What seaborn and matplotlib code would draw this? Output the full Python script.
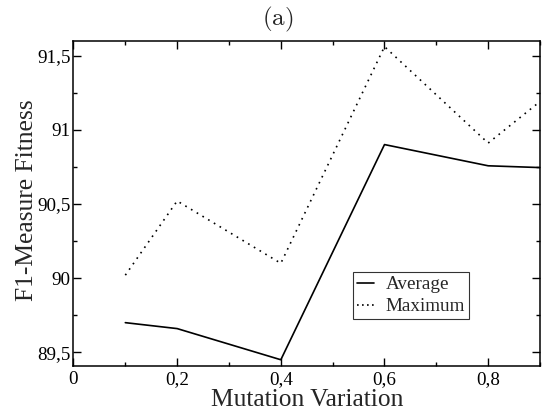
import matplotlib
matplotlib.use("Agg")
import matplotlib.pyplot as plt
import seaborn as sns
import pandas as pd
from matplotlib.ticker import FuncFormatter, MultipleLocator
from matplotlib.lines import Line2D

mutation = [0.1, 0.2, 0.4, 0.6, 0.8, 0.9]
average = [89.70, 89.66, 89.45, 90.90, 90.757, 90.745]
maximum = [90.02, 90.52, 90.10, 91.56, 90.91, 91.19]
series_names = ["Average", "Maximum"]

df = pd.DataFrame({
    "x": mutation * 2,
    "y": average + maximum,
    "series": [series_names[0]] * len(mutation) + [series_names[1]] * len(mutation),
})

sns.set_theme(style="ticks")
plt.rcParams["font.family"] = ["Liberation Serif", "DejaVu Serif"]
plt.rcParams["mathtext.fontset"] = "cm"

fig = plt.figure(figsize=(5.48, 4.16), dpi=100)
ax = fig.add_axes([0.1341, 0.1195, 0.8513, 0.7827])

sns.lineplot(data=df, x="x", y="y", style="series", ax=ax,
             dashes={"Average": "", "Maximum": (1, 3)},
             color="black", linewidth=1.2, legend=False)

ax.set_xlim(0, 0.9)
ax.set_ylim(89.406, 91.6)
ax.xaxis.set_major_locator(MultipleLocator(0.2))
ax.xaxis.set_minor_locator(MultipleLocator(0.1))
ax.yaxis.set_major_locator(MultipleLocator(0.5))
ax.yaxis.set_minor_locator(MultipleLocator(0.25))

fmt = FuncFormatter(lambda v, p: ("%g" % round(v, 3)).replace(".", ","))
ax.xaxis.set_major_formatter(fmt)
ax.yaxis.set_major_formatter(fmt)

ax.tick_params(which="both", direction="in", top=True, right=True, labelsize=13.7, width=1, colors="black")
ax.tick_params(which="major", length=6)
ax.tick_params(which="minor", length=3)
ax.tick_params(axis="y", pad=2)
ax.tick_params(axis="x", pad=3.5)
for s in ax.spines.values():
    s.set_linewidth(1.1)
    s.set_color("black")

ax.set_xlabel("Mutation Variation", fontsize=18.4, labelpad=0.5)
ax.set_ylabel("F1-Measure Fitness", fontsize=18.4)
ax.yaxis.set_label_coords(-0.075, 0.51)
fig.text(277.5 / 548, 1 - 19 / 416, r"$\mathrm{(a)}$", fontsize=18, ha="center", va="center")

handles = [Line2D([], [], color="black", lw=1.2, linestyle="-"),
           Line2D([], [], color="black", lw=1.2, linestyle=(0, (1, 2)))]
leg = ax.legend(handles, series_names, loc="lower left", bbox_to_anchor=(0.5998, 0.1443),
                fontsize=13.8, frameon=True, fancybox=False, edgecolor="black",
                handlelength=0.9, handletextpad=0.6, borderpad=0.2, labelspacing=0.25,
                borderaxespad=0)
leg.get_frame().set_linewidth(0.8)

fig.savefig("out.png", dpi=100)
